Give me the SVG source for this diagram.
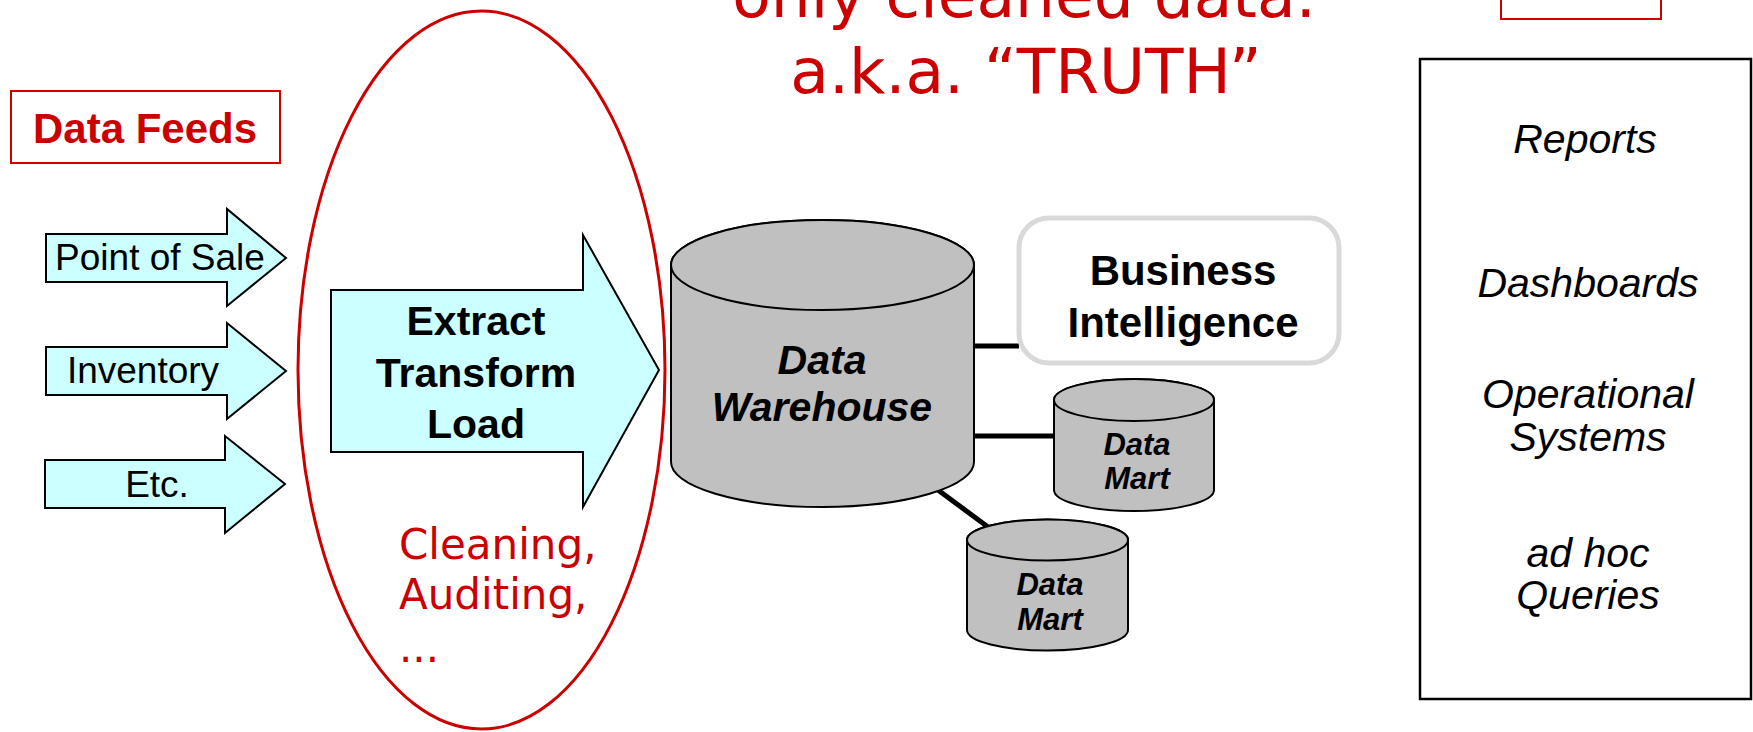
<svg xmlns="http://www.w3.org/2000/svg" width="1753" height="732" viewBox="0 0 1753 732">
<style>
.arrow{fill:#CCFFFF;stroke:#000;stroke-width:2;stroke-linejoin:miter}
.cyl{fill:#C0C0C0;stroke:#000;stroke-width:2}
.conn{stroke:#000;stroke-width:5;fill:none}
.red{fill:#CC0000;font-family:"DejaVu Sans",Verdana,sans-serif}
.feed{font-family:"Liberation Sans",Arial,sans-serif;font-size:37px;fill:#000;text-anchor:middle}
.bold{font-family:"Liberation Sans",Arial,sans-serif;font-weight:bold;fill:#000;text-anchor:middle}
.bi{font-family:"Liberation Sans",Arial,sans-serif;font-weight:bold;font-style:italic;fill:#000;text-anchor:middle}
.out{font-family:"Liberation Sans",Arial,sans-serif;font-style:italic;font-size:41px;fill:#000;text-anchor:middle}
</style>
<rect width="1753" height="732" fill="#fff"/>

<g id="title">
<text class="red" x="1024" y="17" font-size="63" text-anchor="middle">only cleaned data.</text>
<text class="red" x="1026" y="93" font-size="63" text-anchor="middle">a.k.a. “TRUTH”</text>
</g>

<g id="topbox">
<rect x="1501" y="-60" width="160" height="79" fill="#fff" stroke="#CC0000" stroke-width="2"/>
</g>

<g id="datafeeds">
<rect x="11" y="91" width="269" height="72" fill="#fff" stroke="#CC0000" stroke-width="2"/>
<text x="145" y="143" font-family="Liberation Sans, Arial, sans-serif" font-weight="bold" font-size="42" fill="#CC0000" text-anchor="middle">Data Feeds</text>
</g>

<g id="pos">
<polygon class="arrow" points="46,234 227,234 227,209 286,258 227,306 227,282 46,282"/>
<text class="feed" x="160" y="270">Point of Sale</text>
</g>
<g id="inventory">
<polygon class="arrow" points="46,347 227,347 227,323 286,371 227,419 227,395 46,395"/>
<text class="feed" x="143" y="383">Inventory</text>
</g>
<g id="etc">
<polygon class="arrow" points="45,460 225,460 225,436 285,484 225,533 225,508 45,508"/>
<text class="feed" x="157" y="497">Etc.</text>
</g>

<g id="etl">
<polygon class="arrow" points="331,290 583,290 583,235 659,370 583,507 583,452 331,452"/>
<text class="bold" x="476" y="335" font-size="41">Extract</text>
<text class="bold" x="476" y="387" font-size="41">Transform</text>
<text class="bold" x="476" y="438" font-size="41">Load</text>
</g>

<g id="etl-scope">
<ellipse cx="481.5" cy="370" rx="183.5" ry="359" fill="none" stroke="#CC0000" stroke-width="3"/>
<text class="red" x="399" y="559" font-size="42">Cleaning,</text>
<text class="red" x="399" y="609" font-size="42">Auditing,</text>
<text class="red" x="399" y="662" font-size="42">...</text>
</g>

<g id="connectors">
<line class="conn" x1="973" y1="346" x2="1019" y2="346"/>
<line class="conn" x1="972" y1="436" x2="1054" y2="436"/>
<line class="conn" x1="938" y1="490" x2="988" y2="527"/>
</g>

<g id="warehouse">
<path class="cyl" d="M671,265 A151.5,45 0 0 1 974,265 L974,462 A151.5,45 0 0 1 671,462 Z"/>
<ellipse class="cyl" cx="822.5" cy="265" rx="151.5" ry="45"/>
<text class="bi" x="822" y="374" font-size="41">Data</text>
<text class="bi" x="822" y="421" font-size="41">Warehouse</text>
</g>

<g id="bi">
<rect x="1019" y="218" width="320" height="145" rx="30" ry="30" fill="#fff" stroke="#D9D9D9" stroke-width="5"/>
<text class="bold" x="1183" y="285" font-size="42">Business</text>
<text class="bold" x="1183" y="337" font-size="42">Intelligence</text>
</g>

<g id="mart1">
<path class="cyl" d="M1054,400 A80,21 0 0 1 1214,400 L1214,490 A80,21 0 0 1 1054,490 Z"/>
<ellipse class="cyl" cx="1134" cy="400" rx="80" ry="21"/>
<text class="bi" x="1137" y="455" font-size="31">Data</text>
<text class="bi" x="1137" y="489" font-size="31">Mart</text>
</g>

<g id="mart2">
<path class="cyl" d="M967,540 A80.5,20.5 0 0 1 1128,540 L1128,630 A80.5,20.5 0 0 1 967,630 Z"/>
<ellipse class="cyl" cx="1047.5" cy="540" rx="80.5" ry="20.5"/>
<text class="bi" x="1050" y="595" font-size="31">Data</text>
<text class="bi" x="1050" y="630" font-size="31">Mart</text>
</g>

<g id="outputs">
<rect x="1420" y="59" width="331" height="640" fill="none" stroke="#000" stroke-width="2.5"/>
<text class="out" x="1585" y="153">Reports</text>
<text class="out" x="1588" y="297">Dashboards</text>
<text class="out" x="1588" y="408">Operational</text>
<text class="out" x="1588" y="451">Systems</text>
<text class="out" x="1588" y="567">ad hoc</text>
<text class="out" x="1588" y="609">Queries</text>
</g>
</svg>
